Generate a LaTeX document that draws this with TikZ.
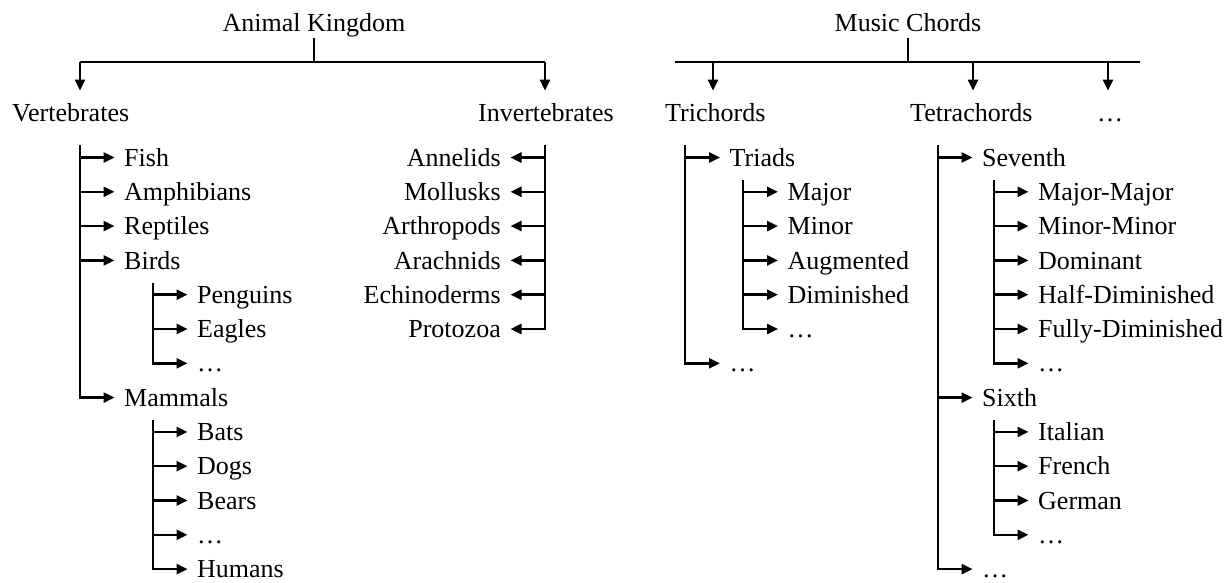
\documentclass[tikz,border=0pt]{standalone}
\usepackage{fontspec}
\setmainfont{Liberation Serif}
\usetikzlibrary{arrows.meta}
\begin{document}
\begin{tikzpicture}[x=1pt,y=-1pt,
  lbl/.style={font=\fontsize{26}{30}\selectfont, inner xsep=9.5pt, inner ysep=0pt,
              text height=17.2pt, text depth=0pt},
  head/.style={lbl, inner ysep=13pt},
  ttl/.style={lbl, inner ysep=7pt},
  link/.style={line width=2.5pt},
  arr/.style={link, -{Triangle[length=11pt,width=10pt]}},
]
\useasboundingbox (0,0) rectangle (1228,582);

% ---------------- Animal Kingdom ----------------
\node[ttl, anchor=base] (ak) at (314,31) {Animal Kingdom};
\coordinate (akj) at (314,62);
\coordinate (akl) at (80,62);
\coordinate (akr) at (545,62);
\draw[link] (ak.south) -- (akj);
\draw[link] (akl) -- (akr);

\node[head, anchor=base west] (vert) at (2.5,121) {Vertebrates};
\node[head, anchor=base east] (invert) at (623.5,121) {Invertebrates};
\draw[arr] (akl) -- (akl |- vert.north);
\draw[arr] (akr) -- (akr |- invert.north);

% vertebrates
\node[lbl, anchor=west] (fish)  at (114.5,157.5) {Fish};
\node[lbl, anchor=west] (amph)  at (114.5,191.8) {Amphibians};
\node[lbl, anchor=west] (rept)  at (114.5,226.1) {Reptiles};
\node[lbl, anchor=west] (birds) at (114.5,260.4) {Birds};
\node[lbl, anchor=west] (peng)  at (187.5,294.7) {Penguins};
\node[lbl, anchor=west] (eagl)  at (187.5,329.0) {Eagles};
\node[lbl, anchor=west] (bmore) at (187.5,363.3) {…};
\node[lbl, anchor=west] (mamm)  at (114.5,397.6) {Mammals};
\node[lbl, anchor=west] (bats)  at (187.5,431.9) {Bats};
\node[lbl, anchor=west] (dogs)  at (187.5,466.2) {Dogs};
\node[lbl, anchor=west] (bears) at (187.5,500.5) {Bears};
\node[lbl, anchor=west] (mmore) at (187.5,534.8) {…};
\node[lbl, anchor=west] (hum)   at (187.5,569.1) {Humans};

\coordinate (vbar) at (80,145);
\draw[arr] (vbar) |- (mamm.west);
\foreach \n in {fish,amph,rept,birds} \draw[arr] (vbar |- \n.west) -- (\n.west);

\coordinate (bbar) at (153,282.5);
\draw[arr] (bbar) |- (bmore.west);
\foreach \n in {peng,eagl} \draw[arr] (bbar |- \n.west) -- (\n.west);

\coordinate (mbar) at (153,420);
\draw[arr] (mbar) |- (hum.west);
\foreach \n in {bats,dogs,bears,mmore} \draw[arr] (mbar |- \n.west) -- (\n.west);

% invertebrates
\node[lbl, anchor=east] (anne) at (510.5,157.5) {Annelids};
\node[lbl, anchor=east] (moll) at (510.5,191.8) {Mollusks};
\node[lbl, anchor=east] (arth) at (510.5,226.1) {Arthropods};
\node[lbl, anchor=east] (arac) at (510.5,260.4) {Arachnids};
\node[lbl, anchor=east] (echi) at (510.5,294.7) {Echinoderms};
\node[lbl, anchor=east] (prot) at (510.5,329.0) {Protozoa};

\coordinate (ibar) at (545,145);
\draw[arr] (ibar) |- (prot.east);
\foreach \n in {anne,moll,arth,arac,echi} \draw[arr] (ibar |- \n.east) -- (\n.east);

% ---------------- Music Chords ----------------
\node[ttl, anchor=base] (mc) at (908,31) {Music Chords};
\coordinate (mcj) at (908,62);
\coordinate (mcl) at (675,62);
\coordinate (mcr) at (1140,62);
\coordinate (mc1) at (713,62);
\coordinate (mc2) at (973,62);
\coordinate (mc3) at (1108,62);
\draw[link] (mc.south) -- (mcj);
\draw[link] (mcl) -- (mcr);

\node[head, anchor=base west] (tri)   at (655.5,121) {Trichords};
\node[head, anchor=base west] (tetra) at (900.5,121) {Tetrachords};
\node[head, anchor=base]      (more)  at (1110,121) {…};
\draw[arr] (mc1) -- (mc1 |- tri.north);
\draw[arr] (mc2) -- (mc2 |- tetra.north);
\draw[arr] (mc3) -- (mc3 |- more.north);

% trichords
\node[lbl, anchor=west] (triads) at (720,157.5) {Triads};
\node[lbl, anchor=west] (tmaj)   at (778,191.8) {Major};
\node[lbl, anchor=west] (tmin)   at (778,226.1) {Minor};
\node[lbl, anchor=west] (taug)   at (778,260.4) {Augmented};
\node[lbl, anchor=west] (tdim)   at (778,294.7) {Diminished};
\node[lbl, anchor=west] (tdots)  at (778,329.0) {…};
\node[lbl, anchor=west] (trest)  at (720,363.3) {…};

\coordinate (tbar) at (685,145);
\draw[arr] (tbar) |- (trest.west);
\draw[arr] (tbar |- triads.west) -- (triads.west);

\coordinate (tsbar) at (743,180);
\draw[arr] (tsbar) |- (tdots.west);
\foreach \n in {tmaj,tmin,taug,tdim} \draw[arr] (tsbar |- \n.west) -- (\n.west);

% tetrachords
\node[lbl, anchor=west] (sev)    at (972.5,157.5) {Seventh};
\node[lbl, anchor=west] (mm)     at (1028.5,191.8) {Major-Major};
\node[lbl, anchor=west] (nn)     at (1028.5,226.1) {Minor-Minor};
\node[lbl, anchor=west] (dom)    at (1028.5,260.4) {Dominant};
\node[lbl, anchor=west] (hd)     at (1028.5,294.7) {Half-Diminished};
\node[lbl, anchor=west] (fd)     at (1028.5,329.0) {Fully-Diminished};
\node[lbl, anchor=west] (sdots)  at (1028.5,363.3) {…};
\node[lbl, anchor=west] (six)    at (972.5,397.6) {Sixth};
\node[lbl, anchor=west] (ita)    at (1028.5,431.9) {Italian};
\node[lbl, anchor=west] (fre)    at (1028.5,466.2) {French};
\node[lbl, anchor=west] (ger)    at (1028.5,500.5) {German};
\node[lbl, anchor=west] (xdots)  at (1028.5,534.8) {…};
\node[lbl, anchor=west] (trrest) at (972.5,569.1) {…};

\coordinate (rbar) at (938,145);
\draw[arr] (rbar) |- (trrest.west);
\foreach \n in {sev,six} \draw[arr] (rbar |- \n.west) -- (\n.west);

\coordinate (svbar) at (994,180);
\draw[arr] (svbar) |- (sdots.west);
\foreach \n in {mm,nn,dom,hd,fd} \draw[arr] (svbar |- \n.west) -- (\n.west);

\coordinate (sxbar) at (994,420);
\draw[arr] (sxbar) |- (xdots.west);
\foreach \n in {ita,fre,ger} \draw[arr] (sxbar |- \n.west) -- (\n.west);
\end{tikzpicture}
\end{document}
